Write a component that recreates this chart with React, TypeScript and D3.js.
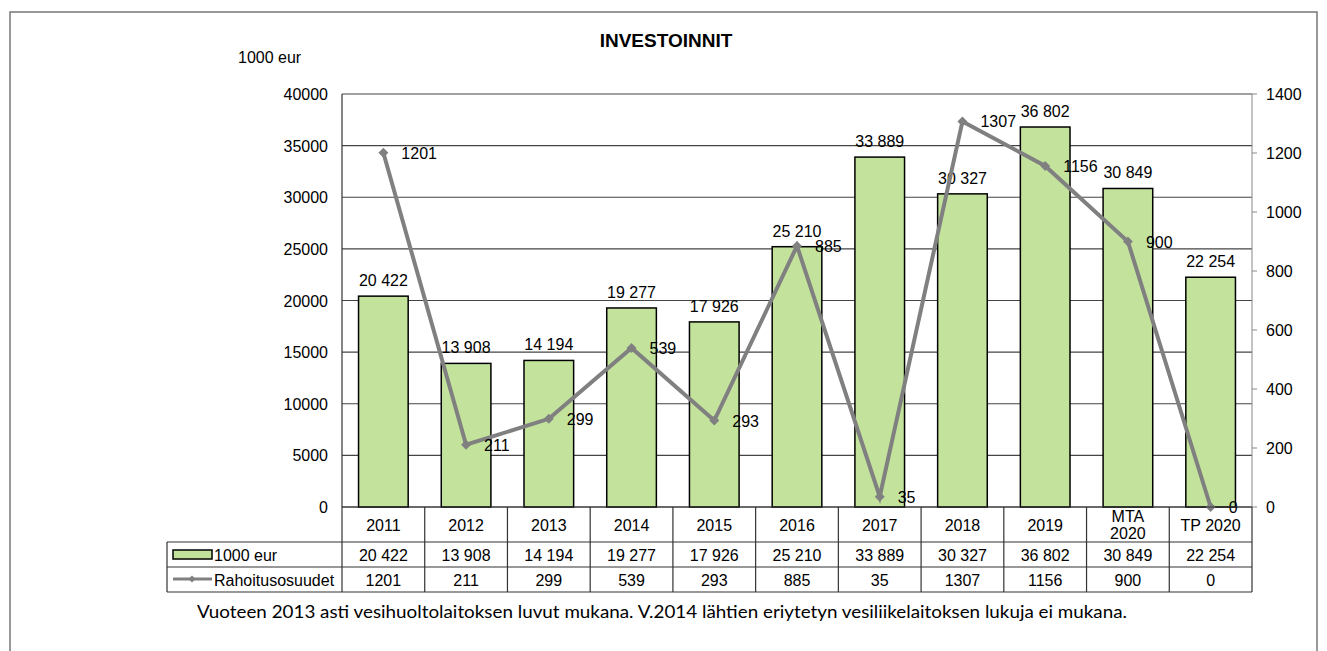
import React from "react";
import * as d3 from "d3";

const categories = ["2011", "2012", "2013", "2014", "2015", "2016", "2017", "2018", "2019", "MTA 2020", "TP 2020"];
const investments = [20422, 13908, 14194, 19277, 17926, 25210, 33889, 30327, 36802, 30849, 22254];
const funding = [1201, 211, 299, 539, 293, 885, 35, 1307, 1156, 900, 0];
const leftTicks = [0, 5000, 10000, 15000, 20000, 25000, 30000, 35000, 40000];
const rightTicks = [0, 200, 400, 600, 800, 1000, 1200, 1400];

const W = 1327;
const H = 651;
const plot = { left: 342, right: 1252, top: 94, bottom: 507 };
const rowY = [507, 542, 567, 592];
const tableLeft = 167;
const font = "'Liberation Sans', Arial, sans-serif";
const fs = 16;

const fmt = (v: number) => (v >= 1000 ? d3.format(",")(v).replace(/,/g, " ") : String(v));

export default function App() {
  const x = d3.scaleBand().domain(categories).range([plot.left, plot.right]).paddingInner(0).paddingOuter(0);
  const yL = d3.scaleLinear().domain([0, 40000]).range([plot.bottom, plot.top]);
  const yR = d3.scaleLinear().domain([0, 1400]).range([plot.bottom, plot.top]);
  const bw = x.bandwidth() * 0.6;
  const cx = (c: string) => (x(c) as number) + x.bandwidth() / 2;

  const line = d3
    .line<number>()
    .x((_, i) => cx(categories[i]))
    .y((d) => yR(d));

  const diamond = (px: number, py: number, s: number) =>
    `M${px},${py - s}L${px + s},${py}L${px},${py + s}L${px - s},${py}Z`;

  return (
    <svg width={W} height={H} style={{ position: "absolute", left: 0, top: 0 }} fontFamily={font}>
      <rect x={0} y={0} width={W} height={H} fill="#fff" />
      <rect x={10} y={12} width={1307} height={660} fill="none" stroke="#777" strokeWidth={1.5} />
      <text x={666} y={47} textAnchor="middle" fontWeight="bold" fontSize={19}>
        INVESTOINNIT
      </text>
      <text x={238} y={63} fontSize={fs}>1000 eur</text>

      {/* gridlines */}
      {leftTicks.map((t) => (
        <line key={t} x1={plot.left} x2={plot.right} y1={yL(t)} y2={yL(t)} stroke="#444" strokeWidth={1.2} />
      ))}
      {leftTicks.map((t) => (
        <text key={"l" + t} x={328} y={yL(t) + 6} textAnchor="end" fontSize={fs}>
          {t}
        </text>
      ))}
      <line x1={plot.left} x2={plot.left} y1={plot.top} y2={plot.bottom} stroke="#333" strokeWidth={1.2} />
      <line x1={plot.right} x2={plot.right} y1={plot.top} y2={plot.bottom} stroke="#888" strokeWidth={1} />
      {rightTicks.map((t) => (
        <g key={"r" + t}>
          <line x1={plot.right} x2={plot.right + 5} y1={yR(t)} y2={yR(t)} stroke="#888" />
          <text x={1266} y={yR(t) + 6} fontSize={fs}>
            {t}
          </text>
        </g>
      ))}

      {/* bars */}
      {categories.map((c, i) => (
        <g key={c}>
          <rect
            x={cx(c) - bw / 2}
            y={yL(investments[i])}
            width={bw}
            height={plot.bottom - yL(investments[i])}
            fill="#c3e39d"
            stroke="#000"
            strokeWidth={1.5}
          />
          <text x={cx(c)} y={yL(investments[i]) - 10} textAnchor="middle" fontSize={fs}>
            {fmt(investments[i])}
          </text>
        </g>
      ))}

      {/* line */}
      <path d={line(funding) || ""} fill="none" stroke="#808080" strokeWidth={4} />
      {funding.map((v, i) => (
        <path key={"m" + i} d={diamond(cx(categories[i]), yR(v), 5)} fill="#808080" />
      ))}
      {funding.map((v, i) => (
        <text key={"fl" + i} x={cx(categories[i]) + 18} y={yR(v) + 6} fontSize={fs}>
          {v}
        </text>
      ))}

      {/* data table */}
      <g stroke="#333" strokeWidth={1.2} fill="none">
        <line x1={plot.left} x2={plot.right} y1={rowY[0]} y2={rowY[0]} />
        <line x1={tableLeft} x2={plot.right} y1={rowY[1]} y2={rowY[1]} />
        <line x1={tableLeft} x2={plot.right} y1={rowY[2]} y2={rowY[2]} />
        <line x1={tableLeft} x2={plot.right} y1={rowY[3]} y2={rowY[3]} />
        <line x1={tableLeft} x2={tableLeft} y1={rowY[1]} y2={rowY[3]} />
        {categories.map((c) => (
          <line key={"v" + c} x1={x(c) as number} x2={x(c) as number} y1={rowY[0]} y2={rowY[3]} />
        ))}
        <line x1={plot.right} x2={plot.right} y1={rowY[0]} y2={rowY[3]} />
      </g>
      {categories.map((c) => {
        const parts = c === "MTA 2020" ? ["MTA", "2020"] : [c];
        return parts.length === 1 ? (
          <text key={"c" + c} x={cx(c)} y={531} textAnchor="middle" fontSize={fs}>
            {c}
          </text>
        ) : (
          <text key={"c" + c} x={cx(c)} textAnchor="middle" fontSize={fs}>
            <tspan x={cx(c)} y={522}>{parts[0]}</tspan>
            <tspan x={cx(c)} y={539}>{parts[1]}</tspan>
          </text>
        );
      })}
      {categories.map((c, i) => (
        <text key={"t1" + c} x={cx(c)} y={561} textAnchor="middle" fontSize={fs}>
          {fmt(investments[i])}
        </text>
      ))}
      {categories.map((c, i) => (
        <text key={"t2" + c} x={cx(c)} y={586} textAnchor="middle" fontSize={fs}>
          {funding[i]}
        </text>
      ))}
      <rect x={173} y={550} width={39} height={9} fill="#c3e39d" stroke="#000" strokeWidth={1.5} />
      <text x={214} y={561} fontSize={fs}>1000 eur</text>
      <line x1={173} x2={212} y1={579} y2={579} stroke="#808080" strokeWidth={3} />
      <path d={diamond(192, 579, 3.5)} fill="#808080" />
      <text x={214} y={586} fontSize={fs}>Rahoitusosuudet</text>

      <text
        x={662}
        y={618}
        textAnchor="middle"
        fontSize={17}
        fontFamily="Lato, 'Open Sans', sans-serif"
        textLength={930}
        lengthAdjust="spacingAndGlyphs"
      >
        Vuoteen 2013 asti vesihuoltolaitoksen luvut mukana. V.2014 lähtien eriytetyn vesiliikelaitoksen lukuja ei mukana.
      </text>
    </svg>
  );
}
